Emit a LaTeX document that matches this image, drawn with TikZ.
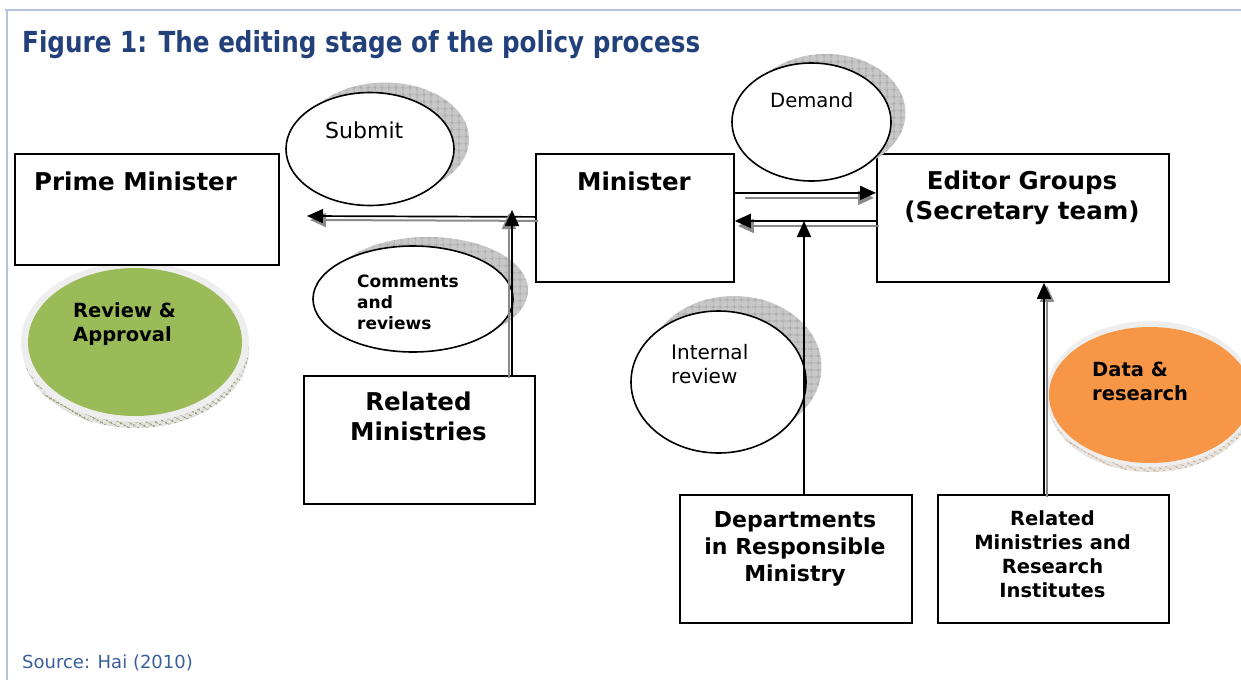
\documentclass[tikz,border=0pt]{standalone}
\usepackage{fontspec}
\usepackage{graphicx}
\setmainfont{DejaVu Sans}
\usetikzlibrary{shapes.geometric,arrows.meta,patterns.meta}
\definecolor{frameblue}{HTML}{B7C3DC}
\definecolor{titleblue}{HTML}{22407A}
\definecolor{srcblue}{HTML}{3A5E9C}
\definecolor{okgreen}{HTML}{9BBB59}
\definecolor{okorange}{HTML}{F79646}
\definecolor{rimgray}{HTML}{EEEEEE}
\definecolor{shadegray}{HTML}{C8C8C8}
\definecolor{arrowgray}{HTML}{8A8A8A}
\begin{document}
\begin{tikzpicture}[x=1pt,y=-1pt,
  box/.style={draw=black,line width=1.8pt,rectangle,inner sep=0,anchor=north west,fill=white},
  bub/.style={ellipse,draw=black,line width=1.6pt,fill=white,inner sep=0},
  bubshade/.style={ellipse,inner sep=0,fill=shadegray,
    postaction={pattern={Hatch[angle=0,distance=6.5pt,line width=0.6pt]},pattern color=gray!75}},
  disc/.style={ellipse,inner sep=0},
  conn/.style={draw=black,line width=1.7pt,-{Triangle[length=16pt,width=14pt]}},
  connshade/.style={draw=arrowgray,line width=2pt,-{Triangle[length=16pt,width=14pt]}},
  boxtxt/.style={inner sep=0,font=\bfseries\fontsize{24.5}{30}\selectfont,align=center},
  bubtxt/.style={inner sep=0,align=left}
]
\useasboundingbox (0,0) rectangle (1241,680);
\clip (0,0) rectangle (1241,680);

% frame
\draw[frameblue,line width=1.5pt] (5,10) -- (1241,10);
\draw[frameblue,line width=1.5pt] (7,10) -- (7,680);

% title and source
\node[anchor=base west,inner sep=0,text=titleblue,font=\bfseries] (title) at (22,52)
  {\resizebox{678pt}{22pt}{Figure 1: The editing stage of the policy process}};
\node[anchor=base west,inner sep=0,text=srcblue,font=\fontsize{18}{22}\selectfont] (src) at (22,668)
  {Source: Hai (2010)};

% coloured discs
\node[disc,minimum width=226pt,minimum height=158pt,fill=gray!20,
  postaction={pattern={Hatch[angle=60,distance=4pt,line width=0.4pt]},pattern color=olive!70!black}] (revB) at (136,349) {};
\node[disc,minimum width=228pt,minimum height=160pt,fill=rimgray] (revR) at (135,342) {};
\node[disc,minimum width=214pt,minimum height=148pt,fill=okgreen] (rev) at (135,342) {};

\node[disc,minimum width=206pt,minimum height=144pt,fill=gray!20,
  postaction={pattern={Hatch[angle=60,distance=4pt,line width=0.4pt]},pattern color=brown!80!orange}] (datB) at (1151,400) {};
\node[disc,minimum width=208pt,minimum height=146pt,fill=rimgray] (datR) at (1150,394) {};
\node[disc,minimum width=202pt,minimum height=136pt,fill=okorange] (dat) at (1150,395) {};

% boxes
\node[box,minimum width=264pt,minimum height=111pt] (pm) at (14,153) {};
\node[box,minimum width=198pt,minimum height=128pt] (min) at (535,153) {};
\node[box,minimum width=292pt,minimum height=128pt] (ed) at (876,153) {};
\node[box,minimum width=231pt,minimum height=128pt] (rel) at (303,375) {};
\node[box,minimum width=232pt,minimum height=128pt] (dep) at (679,494) {};
\node[box,minimum width=231pt,minimum height=128pt] (ri) at (937,494) {};

% bubbles with shadows
\node[bubshade,minimum width=168pt,minimum height=113pt] (submitS) at (385,139) {};
\node[bub,minimum width=168pt,minimum height=113pt] (submit) at (370,149) {};
\node[bubshade,minimum width=159pt,minimum height=118pt] (demandS) at (826,113) {};
\node[bub,minimum width=159pt,minimum height=118pt] (demand) at (811.5,122) {};
\node[bubshade,minimum width=200pt,minimum height=106pt] (commS) at (428,290) {};
\node[bub,minimum width=200pt,minimum height=106pt] (comm) at (413,299) {};
\node[bubshade,minimum width=175pt,minimum height=142pt] (intS) at (734,367) {};
\node[bub,minimum width=175pt,minimum height=142pt] (int) at (718.5,382) {};

% connectors
\coordinate (tipA) at (307,216);
\coordinate (tipB) at (512,210);
\coordinate (tipE) at (804,221);
\coordinate (xF) at (1044,0);

\draw[connshade,transform canvas={shift={(3pt,-4pt)}}] ([yshift=1pt]min.west) -- (tipA);
\draw[conn] ([yshift=1pt]min.west) -- (tipA);

\draw[connshade,transform canvas={shift={(-3pt,-3pt)}}] (rel.north -| tipB) -- (tipB);
\draw[conn] (rel.north -| tipB) -- (tipB);

\draw[connshade,shorten <=9pt,shorten >=3pt,transform canvas={shift={(1pt,-5pt)}}] ([yshift=25pt]min.east) -- ([yshift=25pt]ed.west);
\draw[conn] ([yshift=25pt]min.east) -- ([yshift=25pt]ed.west);

\draw[connshade,transform canvas={shift={(3pt,-5pt)}}] ([yshift=-3pt]ed.west) -- ([yshift=-3pt]min.east);
\draw[conn] ([yshift=-3pt]ed.west) -- ([yshift=-3pt]min.east);

\draw[conn] (dep.north -| tipE) -- (tipE);

\draw[connshade,transform canvas={shift={(3pt,-3pt)}}] (ri.north -| xF) -- (ed.south -| xF);
\draw[conn] (ri.north -| xF) -- (ed.south -| xF);

% box texts
\node[boxtxt,anchor=base west] (pmT) at (34,190) {Prime Minister};
\node[boxtxt,anchor=base] (minT) at (634,190) {Minister};
\node[boxtxt,anchor=north] (edT) at (1022,170.4) {Editor Groups\\(Secretary team)};
\node[boxtxt,anchor=north] (relT) at (418.5,391.4) {Related\\Ministries};
\node[boxtxt,anchor=north,font=\bfseries\fontsize{22}{27}\selectfont] (depT) at (795,511)
  {Departments\\in Responsible\\Ministry};
\node[boxtxt,anchor=north,font=\bfseries\fontsize{19.5}{24}\selectfont] (riT) at (1052.5,510.2)
  {Related\\Ministries and\\Research\\Institutes};

% bubble texts
\node[bubtxt,anchor=base west,font=\fontsize{22}{26}\selectfont] (submitT) at (325,138) {Submit};
\node[bubtxt,anchor=base west,font=\fontsize{19.6}{24}\selectfont] (demandT) at (770,107) {Demand};
\node[bubtxt,anchor=north west,font=\bfseries\fontsize{17}{21}\selectfont] (commT) at (357,274.3)
  {Comments\\and\\reviews};
\node[bubtxt,anchor=north west,font=\fontsize{20}{24}\selectfont] (intT) at (671,343.8)
  {Internal\\review};
\node[bubtxt,anchor=north west,font=\bfseries\fontsize{19.5}{24}\selectfont] (revT) at (73,302.2)
  {Review \&\\Approval};
\node[bubtxt,anchor=north west,font=\bfseries\fontsize{19.5}{24}\selectfont] (datT) at (1092,361.5)
  {Data \&\\research};
\end{tikzpicture}
\end{document}
